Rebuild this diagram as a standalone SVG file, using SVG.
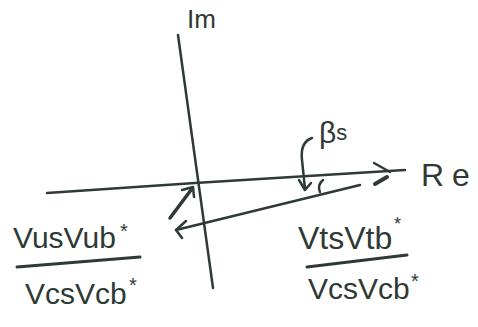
<svg xmlns="http://www.w3.org/2000/svg" width="478" height="327" viewBox="0 0 478 327">
<style>
.s{fill:none;stroke:#2f3a35;stroke-linecap:round;stroke-linejoin:round}
.t{fill:#2f3a35;font-family:"Liberation Sans",Arial,sans-serif}
.m{font-size:30px}
.a{font-size:20px}
</style>
<rect width="478" height="327" fill="#ffffff"/>
<g id="axes">
<path class="s" stroke-width="2.5" d="M178,35 Q195,160 213,288"/>
<path class="s" stroke-width="2.5" d="M47,193 L195,183 L405,170"/>
<path class="s" stroke-width="2.5" d="M374,163 L390,172"/>
<path class="s" stroke-width="4" d="M375,184 L387,177"/>
</g>
<g id="label-im"><text class="t" x="187" y="28" font-size="26">Im</text></g>
<g id="label-re"><text class="t" x="421" y="186" font-size="32" letter-spacing="8">Re</text></g>
<g id="label-beta"><text class="t" x="319" y="143" font-size="30">β<tspan font-size="22" dy="-3">s</tspan></text></g>
<g id="frac-left">
<text class="t m" x="13" y="248">VusVub</text>
<text class="t a" x="120" y="238">*</text>
<path class="s" stroke-width="3" d="M17,267 L140,257"/>
<text class="t m" x="25" y="304">VcsVcb</text>
<text class="t a" x="129" y="292">*</text>
</g>
<g id="frac-right">
<text class="t" x="298" y="249" font-size="32">VtsVtb</text>
<text class="t" x="394" y="230" font-size="18">*</text>
<path class="s" stroke-width="3" d="M307,267 L407,255"/>
<text class="t m" x="308" y="299">VcsVcb</text>
<text class="t a" x="411" y="288">*</text>
</g>
<g id="connectors">
<path class="s" stroke-width="3.5" d="M170,218 L191,190"/>
<path class="s" stroke-width="2.5" d="M182,190 L193,187 L194,197"/>
<path class="s" stroke-width="2.5" d="M360,185 L176,230"/>
<path class="s" stroke-width="2.5" d="M186,221 L176,230 L182,238"/>
<path class="s" stroke-width="2.5" d="M312,138 Q300,142 302,160 L305,189"/>
<path class="s" stroke-width="2.5" d="M299,180 L305,190 L311,183"/>
<path class="s" stroke-width="2.5" d="M323,180 Q317,185 320,192"/>
</g>
</svg>
